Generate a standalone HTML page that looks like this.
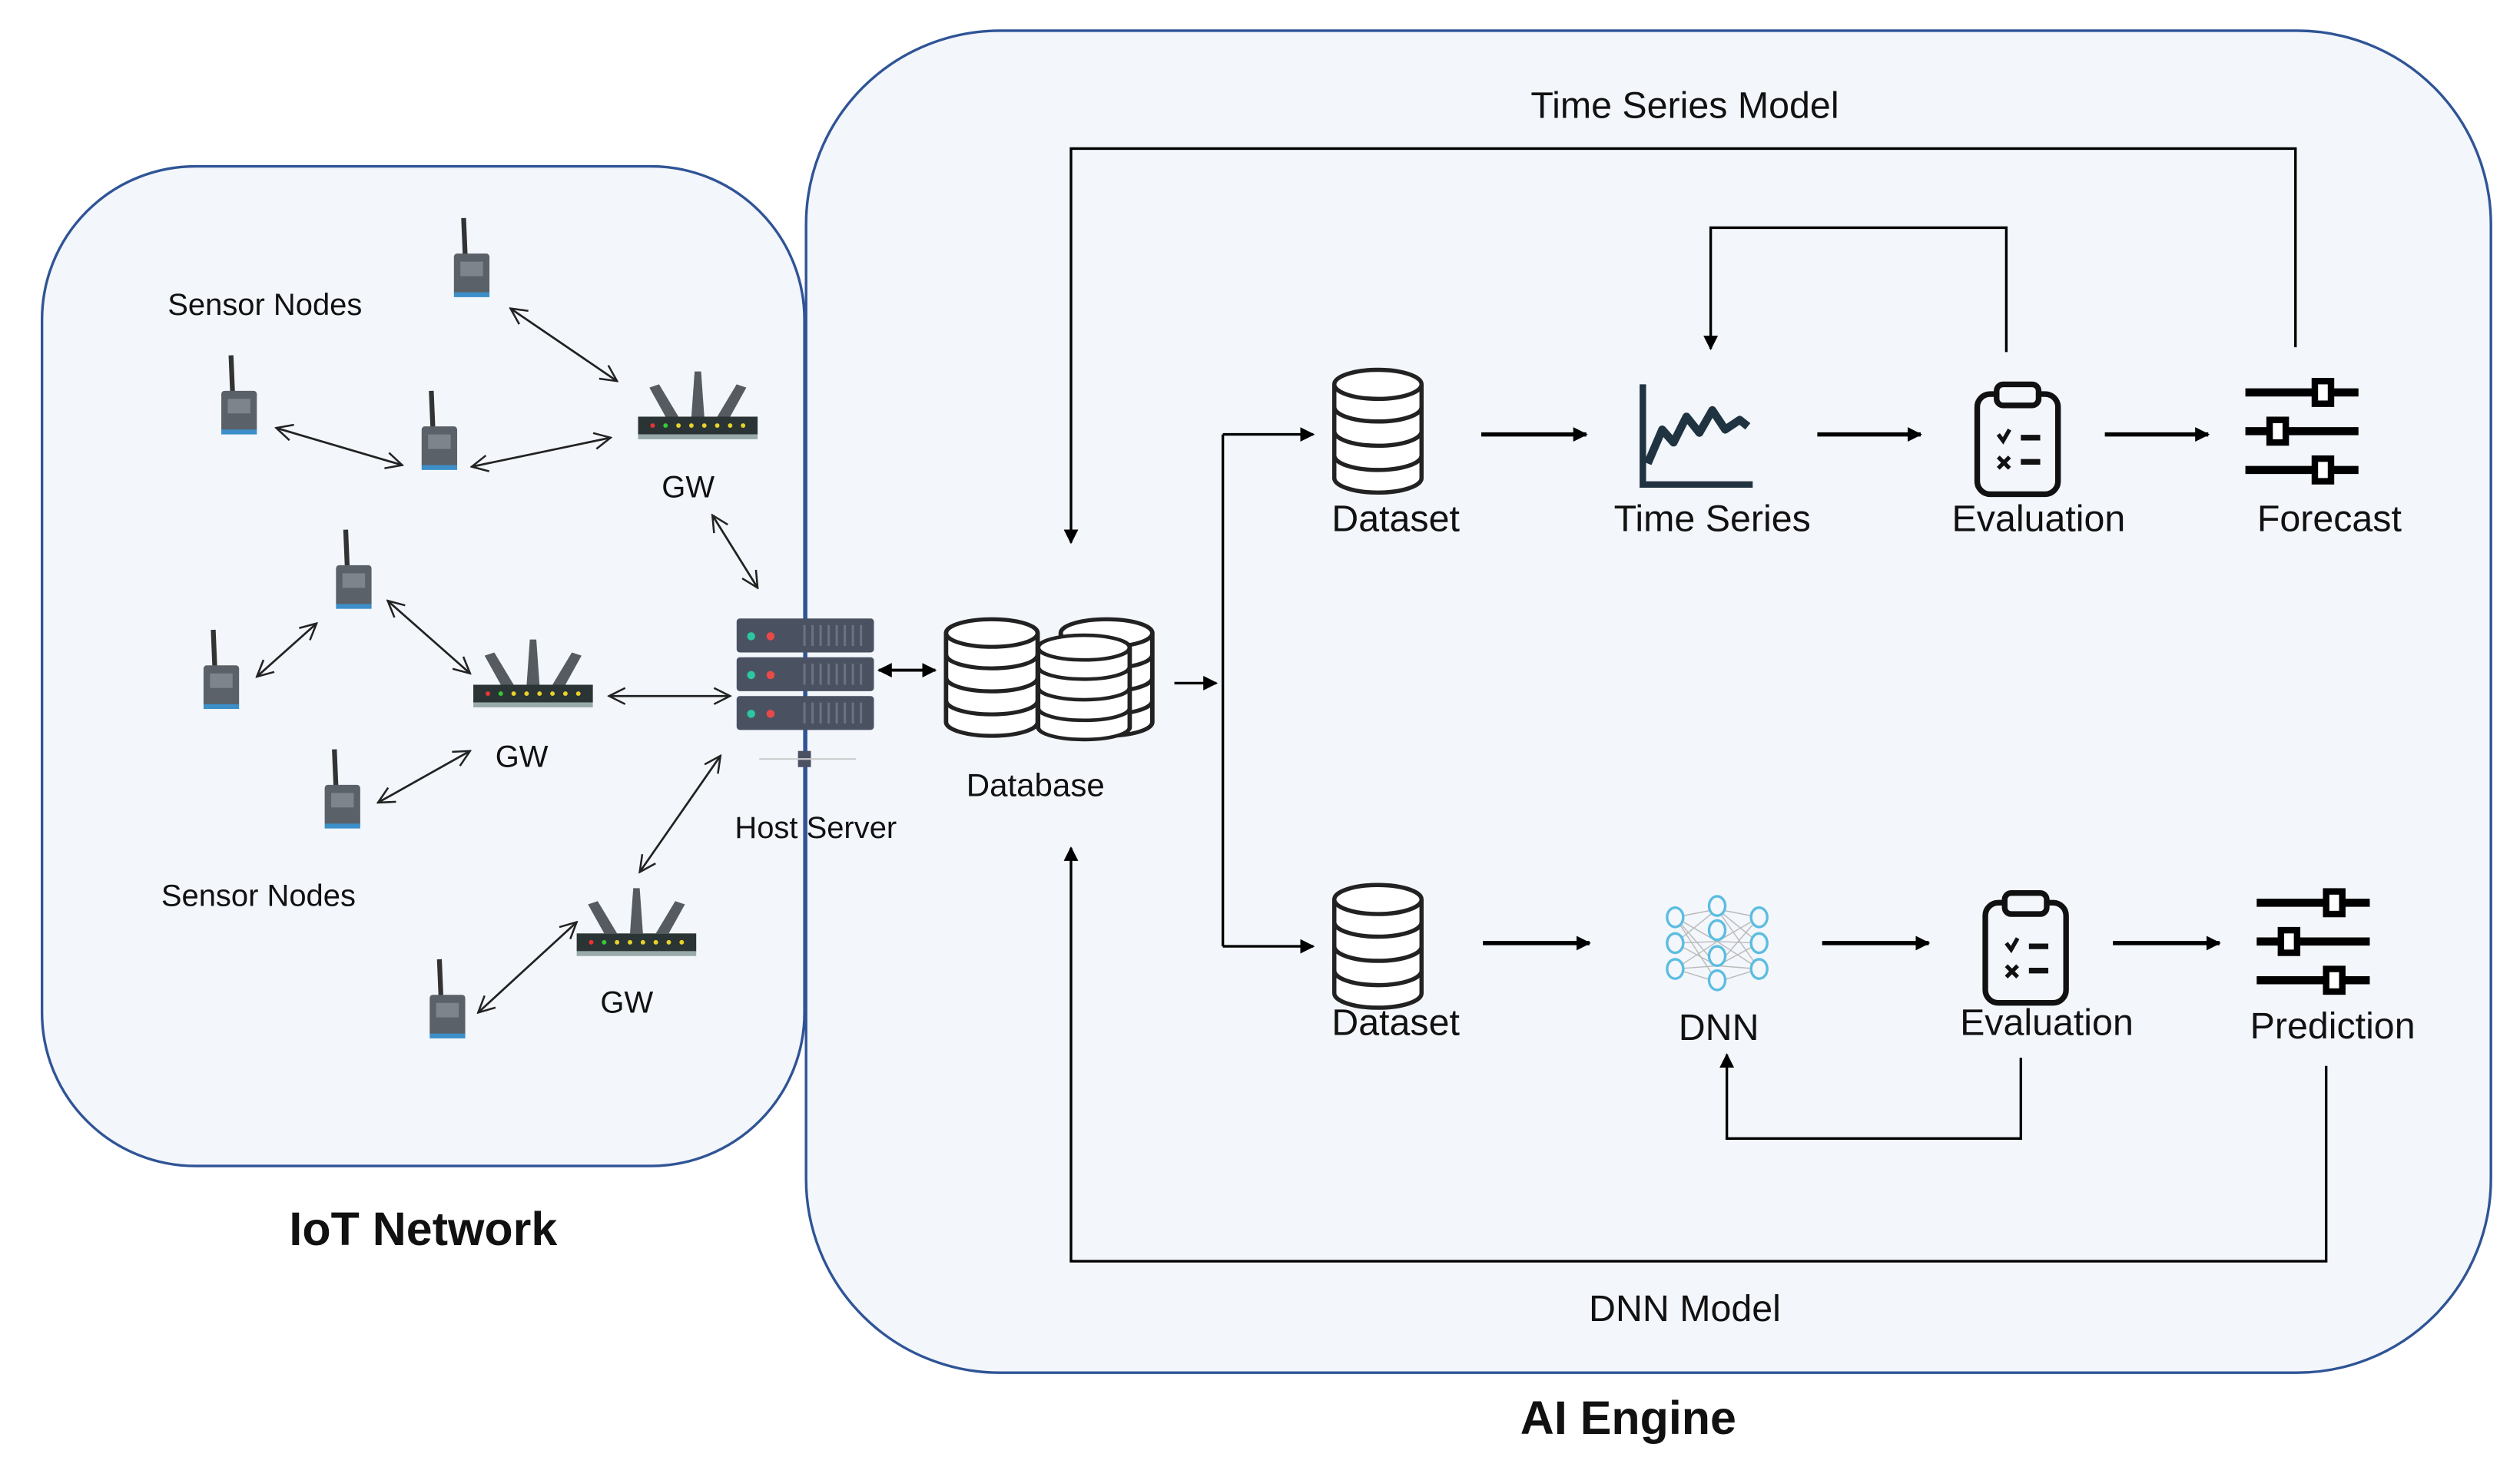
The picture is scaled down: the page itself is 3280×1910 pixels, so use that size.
<!DOCTYPE html>
<html><head><meta charset="utf-8"><style>html,body{margin:0;padding:0;background:#fff}svg{display:block}</style></head>
<body>
<svg width="3280" height="1910" viewBox="0 0 1560 908.4" xmlns="http://www.w3.org/2000/svg" font-family="'Liberation Sans', 'DejaVu Sans', sans-serif">
<defs>
<marker id="ao" viewBox="0 0 12 12" refX="11" refY="6" markerWidth="12" markerHeight="12" markerUnits="userSpaceOnUse" orient="auto-start-reverse"><path d="M1,1 L11,6 L1,11" fill="none" stroke="#222" stroke-width="1.2"/></marker>
<marker id="af" viewBox="0 0 10 10" refX="9" refY="5" markerWidth="9" markerHeight="9" markerUnits="userSpaceOnUse" orient="auto-start-reverse"><path d="M0,0 L10,5 L0,10 z" fill="#000"/></marker>
<g id="cyl" fill="#fff" stroke="#222" stroke-width="2.6">
<path d="M-27,0 V58 A27,9 0 0 0 27,58 V0"/>
<path d="M-27,14 A27,9 0 0 0 27,14 M-27,29 A27,9 0 0 0 27,29 M-27,44 A27,9 0 0 0 27,44" fill="none"/>
<ellipse cx="0" cy="0" rx="27" ry="9"/>
</g>
<g id="node">
<line x1="-5" y1="-30" x2="-4" y2="-6" stroke="#333" stroke-width="3"/>
<rect x="-11" y="-8" width="22" height="26" rx="2" fill="#5b6168"/>
<rect x="-7" y="-3" width="14" height="9" fill="#7d848b"/>
<rect x="-11" y="16" width="22" height="3" fill="#3c8fc9"/>
</g>
<g id="gw">
<path d="M-20,-4 L-12,-4 L-24,-24 L-30,-22 Z M-4,-4 L4,-4 L2,-32 L-2,-32 Z M12,-4 L20,-4 L30,-22 L24,-24 Z" fill="#555b60"/>
<rect x="-37" y="-4" width="74" height="11" fill="#2b3434"/>
<rect x="-37" y="7" width="74" height="3" fill="#9aa"/>
<g fill="#e8d22a"><circle cx="-28" cy="1.5" r="1.4" fill="#e33"/><circle cx="-20" cy="1.5" r="1.4" fill="#3c3"/><circle cx="-12" cy="1.5" r="1.4"/><circle cx="-4" cy="1.5" r="1.4"/><circle cx="4" cy="1.5" r="1.4"/><circle cx="12" cy="1.5" r="1.4"/><circle cx="20" cy="1.5" r="1.4"/><circle cx="28" cy="1.5" r="1.4"/></g>
</g>
<g id="clip" fill="none" stroke="#111">
<rect x="-25" y="-27" width="50" height="62" rx="8" stroke-width="3.5"/>
<rect x="-13" y="-33" width="26" height="13" rx="4" fill="#f3f6fb" stroke-width="3.5"/>
<path d="M-12,-2 l3,4 l4,-7 M-12,12 l7,7 M-5,12 l-7,7" stroke-width="2.5"/>
<path d="M2,0 h12 M2,15 h12" stroke-width="3.5"/>
</g>
<g id="sld" stroke="#000">
<path d="M-36,-24 h70 M-36,0 h70 M-36,24 h70" stroke-width="5"/>
<rect x="7" y="-31" width="10" height="14" fill="#fff" stroke-width="4"/>
<rect x="-21" y="-7" width="10" height="14" fill="#fff" stroke-width="4"/>
<rect x="7" y="17" width="10" height="14" fill="#fff" stroke-width="4"/>
</g>
</defs>

<rect x="26" y="103" width="472" height="619" rx="95" fill="#f3f6fb" stroke="#2f5496" stroke-width="1.6"/>
<rect x="499" y="19" width="1043" height="831" rx="120" fill="#f3f6fb" stroke="#2f5496" stroke-width="1.6"/>

<text x="262" y="771" font-size="29" font-weight="bold" text-anchor="middle" fill="#111">IoT Network</text>
<text x="1008" y="888" font-size="29" font-weight="bold" text-anchor="middle" fill="#111">AI Engine</text>

<g font-size="19" fill="#111" text-anchor="middle">
<text x="164" y="195">Sensor Nodes</text>
<text x="160" y="561">Sensor Nodes</text>
<text x="426" y="308">GW</text>
<text x="323" y="475">GW</text>
<text x="388" y="627">GW</text>
<text x="505" y="519">Host Server</text>
</g>
<use href="#node" x="292" y="165"/>
<use href="#node" x="148" y="250"/>
<use href="#node" x="272" y="272"/>
<use href="#node" x="219" y="358"/>
<use href="#node" x="137" y="420"/>
<use href="#node" x="212" y="494"/>
<use href="#node" x="277" y="624"/>
<use href="#gw" x="432" y="262"/>
<use href="#gw" x="330" y="428"/>
<use href="#gw" x="394" y="582"/>
<g stroke="#222" stroke-width="1.3" marker-start="url(#ao)" marker-end="url(#ao)">
<line x1="316" y1="191" x2="382" y2="236"/>
<line x1="171" y1="265" x2="249" y2="288"/>
<line x1="292" y1="289" x2="378" y2="271"/>
<line x1="441" y1="319" x2="469" y2="364"/>
<line x1="240" y1="372" x2="291" y2="417"/>
<line x1="159" y1="419" x2="196" y2="386"/>
<line x1="377" y1="431" x2="452" y2="431"/>
<line x1="234" y1="497" x2="291" y2="465"/>
<line x1="396" y1="540" x2="446" y2="468"/>
<line x1="296" y1="627" x2="357" y2="571"/>
</g>
<g>
<rect x="456" y="383" width="85" height="21" rx="2" fill="#4a5160"/>
<rect x="456" y="407" width="85" height="21" rx="2" fill="#4a5160"/>
<rect x="456" y="431" width="85" height="21" rx="2" fill="#4a5160"/>
<g fill="#2cc7a0"><circle cx="465" cy="394" r="2.5"/><circle cx="465" cy="418" r="2.5"/><circle cx="465" cy="442" r="2.5"/></g>
<g fill="#e84a4a"><circle cx="477" cy="394" r="2.5"/><circle cx="477" cy="418" r="2.5"/><circle cx="477" cy="442" r="2.5"/></g>
<g stroke="#6a7282" stroke-width="1.5"><path d="M498,387v13M503,387v13M508,387v13M513,387v13M518,387v13M523,387v13M528,387v13M533,387v13M498,411v13M503,411v13M508,411v13M513,411v13M518,411v13M523,411v13M528,411v13M533,411v13M498,435v13M503,435v13M508,435v13M513,435v13M518,435v13M523,435v13M528,435v13M533,435v13"/></g>
<rect x="494" y="465" width="8" height="10" fill="#4a5160"/>
<line x1="470" y1="470" x2="530" y2="470" stroke="#ccc" stroke-width="1"/>
</g>
<line x1="544" y1="415" x2="579" y2="415" stroke="#000" stroke-width="1.8" marker-start="url(#af)" marker-end="url(#af)"/>

<g transform="translate(685,392) scale(1.05,0.95)"><use href="#cyl"/></g>
<g transform="translate(614,392) scale(1.05,0.95)"><use href="#cyl"/></g>
<g transform="translate(671,401) scale(1.05,0.85)"><use href="#cyl"/></g>
<text x="641" y="493" font-size="20" text-anchor="middle" fill="#111">Database</text>

<g stroke="#000" stroke-width="1.6" fill="none">
<line x1="727" y1="423" x2="753" y2="423" marker-end="url(#af)"/>
<path d="M757,269 V586"/>
<line x1="757" y1="269" x2="813" y2="269" marker-end="url(#af)"/>
<line x1="757" y1="586" x2="813" y2="586" marker-end="url(#af)"/>
<path d="M1421,215 V92 H663 V336" marker-end="url(#af)"/>
<path d="M1242,218 V141 H1059 V216" marker-end="url(#af)"/>
<path d="M1251,655 V705 H1069 V653" marker-end="url(#af)"/>
<path d="M1440,660 V781 H663 V525" marker-end="url(#af)"/>
</g>
<g stroke="#000" stroke-width="2.6">
<line x1="917" y1="269" x2="982" y2="269" marker-end="url(#af)"/>
<line x1="1125" y1="269" x2="1189" y2="269" marker-end="url(#af)"/>
<line x1="1303" y1="269" x2="1367" y2="269" marker-end="url(#af)"/>
<line x1="918" y1="584" x2="984" y2="584" marker-end="url(#af)"/>
<line x1="1128" y1="584" x2="1194" y2="584" marker-end="url(#af)"/>
<line x1="1308" y1="584" x2="1374" y2="584" marker-end="url(#af)"/>
</g>

<use href="#cyl" x="853" y="238"/>
<use href="#cyl" x="853" y="557"/>
<g fill="none" stroke="#1f3340" stroke-width="4">
<path d="M1017,238 V300 H1085"/>
<polyline points="1020,287 1029,266 1036,274 1044,258 1052,268 1060,254 1068,266 1077,260 1082,264" stroke-width="5" stroke-linejoin="round"/>
</g>
<use href="#clip" x="1249" y="271"/>
<use href="#clip" x="1254" y="586"/>
<use href="#sld" x="1426" y="267"/>
<use href="#sld" x="1433" y="583"/>
<g stroke="#bbb" stroke-width="0.7">
<path d="M1037,568 L1063,563 M1037,568 L1063,583 M1037,568 L1063,598 M1037,584 L1063,563 M1037,584 L1063,583 M1037,584 L1063,598 M1037,600 L1063,583 M1037,600 L1063,598 M1037,600 L1063,608 M1063,563 L1089,568 M1063,583 L1089,568 M1063,598 L1089,568 M1063,563 L1089,584 M1063,583 L1089,584 M1063,598 L1089,584 M1063,583 L1089,600 M1063,598 L1089,600 M1063,608 L1089,600 M1037,568 L1063,608 M1063,563 L1089,600"/>
</g>
<g fill="#f3f6fb" stroke="#5bbde0" stroke-width="1.6">
<ellipse cx="1037" cy="568" rx="5" ry="6"/><ellipse cx="1037" cy="584" rx="5" ry="6"/><ellipse cx="1037" cy="600" rx="5" ry="6"/>
<ellipse cx="1063" cy="561" rx="5" ry="6"/><ellipse cx="1063" cy="576" rx="5" ry="6"/><ellipse cx="1063" cy="592" rx="5" ry="6"/><ellipse cx="1063" cy="607" rx="5" ry="6"/>
<ellipse cx="1089" cy="568" rx="5" ry="6"/><ellipse cx="1089" cy="584" rx="5" ry="6"/><ellipse cx="1089" cy="600" rx="5" ry="6"/>
</g>

<g font-size="23" fill="#111" text-anchor="middle">
<text x="1043" y="73">Time Series Model</text>
<text x="1043" y="818">DNN Model</text>
<text x="864" y="329">Dataset</text>
<text x="1060" y="329">Time Series</text>
<text x="1262" y="329">Evaluation</text>
<text x="1442" y="329">Forecast</text>
<text x="864" y="641">Dataset</text>
<text x="1064" y="644">DNN</text>
<text x="1267" y="641">Evaluation</text>
<text x="1444" y="643">Prediction</text>
</g>
</svg>
</body></html>
